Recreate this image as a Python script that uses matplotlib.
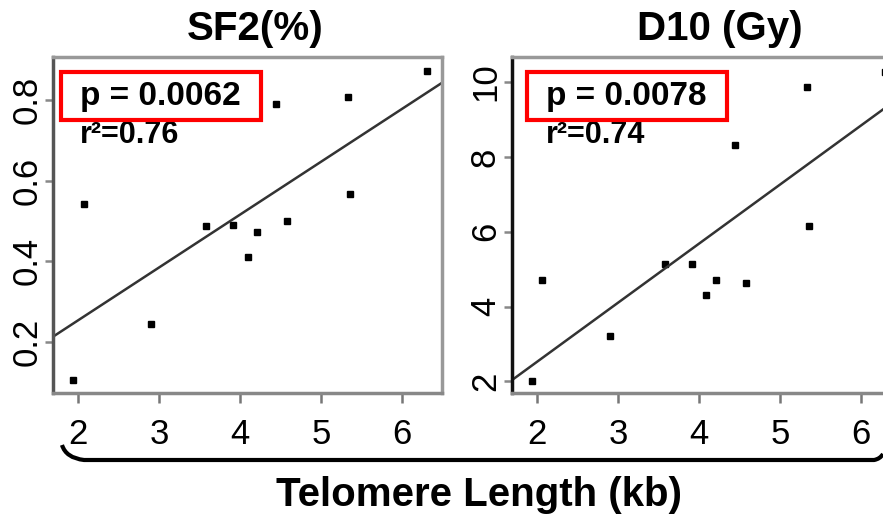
import matplotlib
matplotlib.use("Agg")
import matplotlib.pyplot as plt
from matplotlib.patches import Rectangle, PathPatch
from matplotlib.path import Path

plt.rcParams['font.family'] = ['Liberation Sans', 'DejaVu Sans']

# telomere length (kb) per cell line, same for both panels
telomere = [1.94, 2.07, 2.90, 3.58, 3.91, 4.09, 4.21, 4.44, 4.58, 5.33, 5.36, 6.30]
sf2 = [0.106, 0.541, 0.244, 0.487, 0.489, 0.412, 0.472, 0.790, 0.500, 0.808, 0.567, 0.872]
d10 = [2.00, 4.70, 3.22, 5.15, 5.15, 4.31, 4.72, 8.33, 4.62, 9.87, 6.16, 10.28]

# linear fits (intercept, slope) and stats
fit_sf2 = (-0.008, 0.131)
fit_d10 = (-0.64, 1.58)
p_labels = ['p = 0.0062', 'p = 0.0078']
r2_labels = ['r²=0.76', 'r²=0.74']
titles = ['SF2(%)', 'D10 (Gy)']
xticks = [2, 3, 4, 5, 6]
yticks_sf2 = [0.2, 0.4, 0.6, 0.8]
yticks_d10 = [2, 4, 6, 8, 10]

fig = plt.figure(figsize=(8.83, 5.14), dpi=100)
ax1 = fig.add_axes([0.0600, 0.2354, 0.4406, 0.6537])
ax2 = fig.add_axes([0.5795, 0.2354, 0.4406, 0.6537])

panels = [
    (ax1, sf2, fit_sf2, yticks_sf2, (0.074, 0.906), ['0.2', '0.4', '0.6', '0.8'], 0.519, 0.069, '#555555'),
    (ax2, d10, fit_d10, yticks_d10, (1.69, 10.67), ['2', '4', '6', '8', '10'], 0.535, 0.088, '#111111'),
]

for i, (ax, yvals, fit, yt, ylim, ytl, tx, px, left_col) in enumerate(panels):
    ax.plot(telomere, yvals, 's', color='black', markersize=4)
    ax.axline((0, fit[0]), slope=fit[1], color='#333333', lw=1.8)
    ax.set_xlim(1.69, 6.49)
    ax.set_ylim(*ylim)

    ax.set_xticks(xticks)
    ax.set_xticklabels([str(t) for t in xticks], fontsize=25)
    ax.set_yticks(yt)
    ax.set_yticklabels(ytl, fontsize=25, rotation=90, va='center')
    ax.tick_params(axis='x', length=7, width=1.8, color='#777777', pad=11)
    ax.tick_params(axis='y', length=6, width=1.8, color='#888888', pad=1)

    for name, sp in ax.spines.items():
        sp.set_linewidth(2.5)
        sp.set_color('#999999')
    ax.spines['left'].set_color(left_col)
    ax.spines['bottom'].set_color('#888888')

    ax.set_title(titles[i], fontsize=29, fontweight='bold', x=tx, pad=12)

    # highlighted p-value box
    ax.add_patch(Rectangle((px - 0.048, 0.8125), 0.513, 0.1435, transform=ax.transAxes,
                           fill=False, edgecolor='red', lw=3, clip_on=False, zorder=5))
    ax.text(px, 0.857, p_labels[i], transform=ax.transAxes, fontsize=24,
            fontweight='bold', va='baseline', ha='left')
    ax.text(px, 0.744, r2_labels[i], transform=ax.transAxes, fontsize=22,
            fontweight='bold', va='baseline', ha='left')

# curly bracket grouping both x axes
W, H = 883, 514
verts = [(62 / W, 1 - 445 / H), (66 / W, 1 - 458 / H), (84 / W, 1 - 460 / H),
         (874 / W, 1 - 460 / H), (880 / W, 1 - 459 / H), (883 / W, 1 - 454 / H)]
codes = [Path.MOVETO, Path.CURVE3, Path.CURVE3, Path.LINETO, Path.CURVE3, Path.CURVE3]
fig.patches.append(PathPatch(Path(verts, codes), transform=fig.transFigure,
                             fill=False, lw=3, edgecolor='black'))

fig.text(0.542, 0.0156, 'Telomere Length (kb)', fontsize=29, fontweight='bold',
         ha='center', va='baseline')

fig.savefig('out.png', dpi=100)
